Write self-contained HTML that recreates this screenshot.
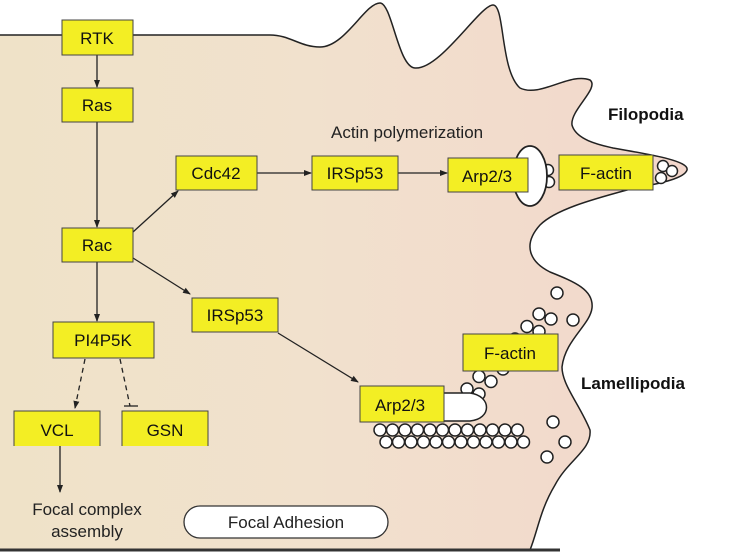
<!DOCTYPE html>
<html><head><meta charset="utf-8"><style>
body{margin:0;background:#fff;}
svg{display:block;font-family:"Liberation Sans",sans-serif;}
</style></head><body>
<svg width="735" height="553" viewBox="0 0 735 553">
<defs>
<linearGradient id="cellg" x1="0" x2="1" y1="0" y2="0">
<stop offset="0" stop-color="#efe2c8"/><stop offset="0.45" stop-color="#f1e1cd"/><stop offset="1" stop-color="#f3d7cc"/>
</linearGradient>
<marker id="ah" markerWidth="8" markerHeight="8" refX="7" refY="4" orient="auto" markerUnits="userSpaceOnUse"><path d="M0,1 L8,4 L0,7 Z" fill="#222"/></marker>
</defs>
<path id="cellpath" fill="url(#cellg)" stroke="none"
d="M0,35 L270,35 C290,35 300,47 320,47 C345,47 365,3 380,3 C392,3 398,67 415,68 C440,70 480,5 493,5 C505,5 500,70 520,88 C540,98 570,72 590,80 C600,88 570,110 572,125 C576,140 600,145 613,148 C640,153 690,160 687,170 C684,180 650,185 627,190 C590,200 555,210 540,225 C522,245 530,262 550,272 C575,282 594,290 592,308 C590,325 565,340 562,367 C562,385 580,405 590,430 C592,450 568,460 555,485 C540,510 538,530 530,550 L0,550 Z"/>
<path fill="none" stroke="#222" stroke-width="1.5"
d="M0,35 L270,35 C290,35 300,47 320,47 C345,47 365,3 380,3 C392,3 398,67 415,68 C440,70 480,5 493,5 C505,5 500,70 520,88 C540,98 570,72 590,80 C600,88 570,110 572,125 C576,140 600,145 613,148 C640,153 690,160 687,170 C684,180 650,185 627,190 C590,200 555,210 540,225 C522,245 530,262 550,272 C575,282 594,290 592,308 C590,325 565,340 562,367 C562,385 580,405 590,430 C592,450 568,460 555,485 C540,510 538,530 530,550"/>
<line x1="0" y1="550" x2="560" y2="550" stroke="#333" stroke-width="3"/>

<g stroke="#222" stroke-width="1.3" fill="none">
<line x1="97" y1="55" x2="97" y2="87" marker-end="url(#ah)"/>
<line x1="97" y1="122" x2="97" y2="227" marker-end="url(#ah)"/>
<line x1="133" y1="232" x2="178" y2="191" marker-end="url(#ah)"/>
<line x1="257" y1="173" x2="311" y2="173" marker-end="url(#ah)"/>
<line x1="398" y1="173" x2="447" y2="173" marker-end="url(#ah)"/>
<line x1="133" y1="258" x2="190" y2="294" marker-end="url(#ah)"/>
<line x1="97" y1="262" x2="97" y2="321" marker-end="url(#ah)"/>
<line x1="278" y1="333" x2="358" y2="382" marker-end="url(#ah)"/>
<line x1="85" y1="359" x2="75" y2="408" stroke-dasharray="5,4" marker-end="url(#ah)"/>
<line x1="120" y1="359" x2="130" y2="406" stroke-dasharray="5,4"/>
<line x1="124" y1="406" x2="138" y2="406"/>
<line x1="60" y1="446" x2="60" y2="492" marker-end="url(#ah)"/>
</g>

<g fill="#fff" stroke="#222" stroke-width="1.5" id="circles"></g>
<ellipse cx="530" cy="176" rx="17" ry="30" fill="#fff" stroke="#222" stroke-width="1.8"/>
<path d="M440,393 L470,393 C492,396 492,419 470,421 L440,421 Z" fill="#fff" stroke="#222" stroke-width="1.5"/>

<g font-size="17" text-anchor="middle" fill="#111" stroke="#444" stroke-width="1">
<g><rect x="62" y="20" width="71" height="35" fill="#f3ee24"/><text x="97" y="44" stroke="none">RTK</text></g>
<g><rect x="62" y="88" width="71" height="34" fill="#f3ee24"/><text x="97" y="111" stroke="none">Ras</text></g>
<g><rect x="62" y="228" width="71" height="34" fill="#f3ee24"/><text x="97" y="251" stroke="none">Rac</text></g>
<g><rect x="176" y="156" width="81" height="34" fill="#f3ee24"/><text x="216" y="179" stroke="none">Cdc42</text></g>
<g><rect x="312" y="156" width="86" height="34" fill="#f3ee24"/><text x="355" y="179" stroke="none">IRSp53</text></g>
<g><rect x="448" y="158" width="80" height="34" fill="#f3ee24"/><text x="487" y="182" stroke="none">Arp2/3</text></g>
<g><rect x="559" y="155" width="94" height="35" fill="#f3ee24"/><text x="606" y="179" stroke="none">F-actin</text></g>
<g><rect x="192" y="298" width="86" height="34" fill="#f3ee24"/><text x="235" y="321" stroke="none">IRSp53</text></g>
<g><rect x="53" y="322" width="101" height="36" fill="#f3ee24"/><text x="103" y="346" stroke="none">PI4P5K</text></g>
<g><path d="M14,446 L14,411 L100,411 L100,446" fill="#f3ee24"/><text x="57" y="436" stroke="none">VCL</text></g>
<g><path d="M122,446 L122,411 L208,411 L208,446" fill="#f3ee24"/><text x="165" y="436" stroke="none">GSN</text></g>
<g><rect x="360" y="386" width="84" height="36" fill="#f3ee24"/><text x="400" y="411" stroke="none">Arp2/3</text></g>
<g><rect x="463" y="334" width="95" height="37" fill="#f3ee24"/><text x="510" y="359" stroke="none">F-actin</text></g>
</g>

<text x="608" y="120" font-size="17" font-weight="bold" fill="#111">Filopodia</text>
<text x="581" y="389" font-size="17" font-weight="bold" fill="#111">Lamellipodia</text>
<text x="331" y="138" font-size="17" fill="#222">Actin polymerization</text>
<text x="87" y="515" font-size="17" text-anchor="middle" fill="#222">Focal complex</text>
<text x="87" y="537" font-size="17" text-anchor="middle" fill="#222">assembly</text>
<g><rect x="184" y="506" width="204" height="32" rx="16" fill="#fff" stroke="#333" stroke-width="1.3"/><text x="286" y="528" font-size="17" text-anchor="middle" fill="#222">Focal Adhesion</text></g>
</svg>
<script>
var g=document.getElementById('circles');
function c(x,y,r){var e=document.createElementNS('http://www.w3.org/2000/svg','circle');e.setAttribute('cx',x);e.setAttribute('cy',y);e.setAttribute('r',r||6);


g.appendChild(e);}
var i;
for(i=0;i<12;i++){c(380+i*12.5,430);c(386+i*12.5,442);}
for(i=0;i<7;i++){c(467+i*12,389-i*12.5);c(479+i*12,394-i*12.5);}
c(557,293);c(573,320);c(553,422);c(565,442);c(547,457);
c(548,170,5.5);c(549,182,5.5);c(663,166,5.5);c(661,178,5.5);c(672,171,5.5);
</script>
</body></html>
